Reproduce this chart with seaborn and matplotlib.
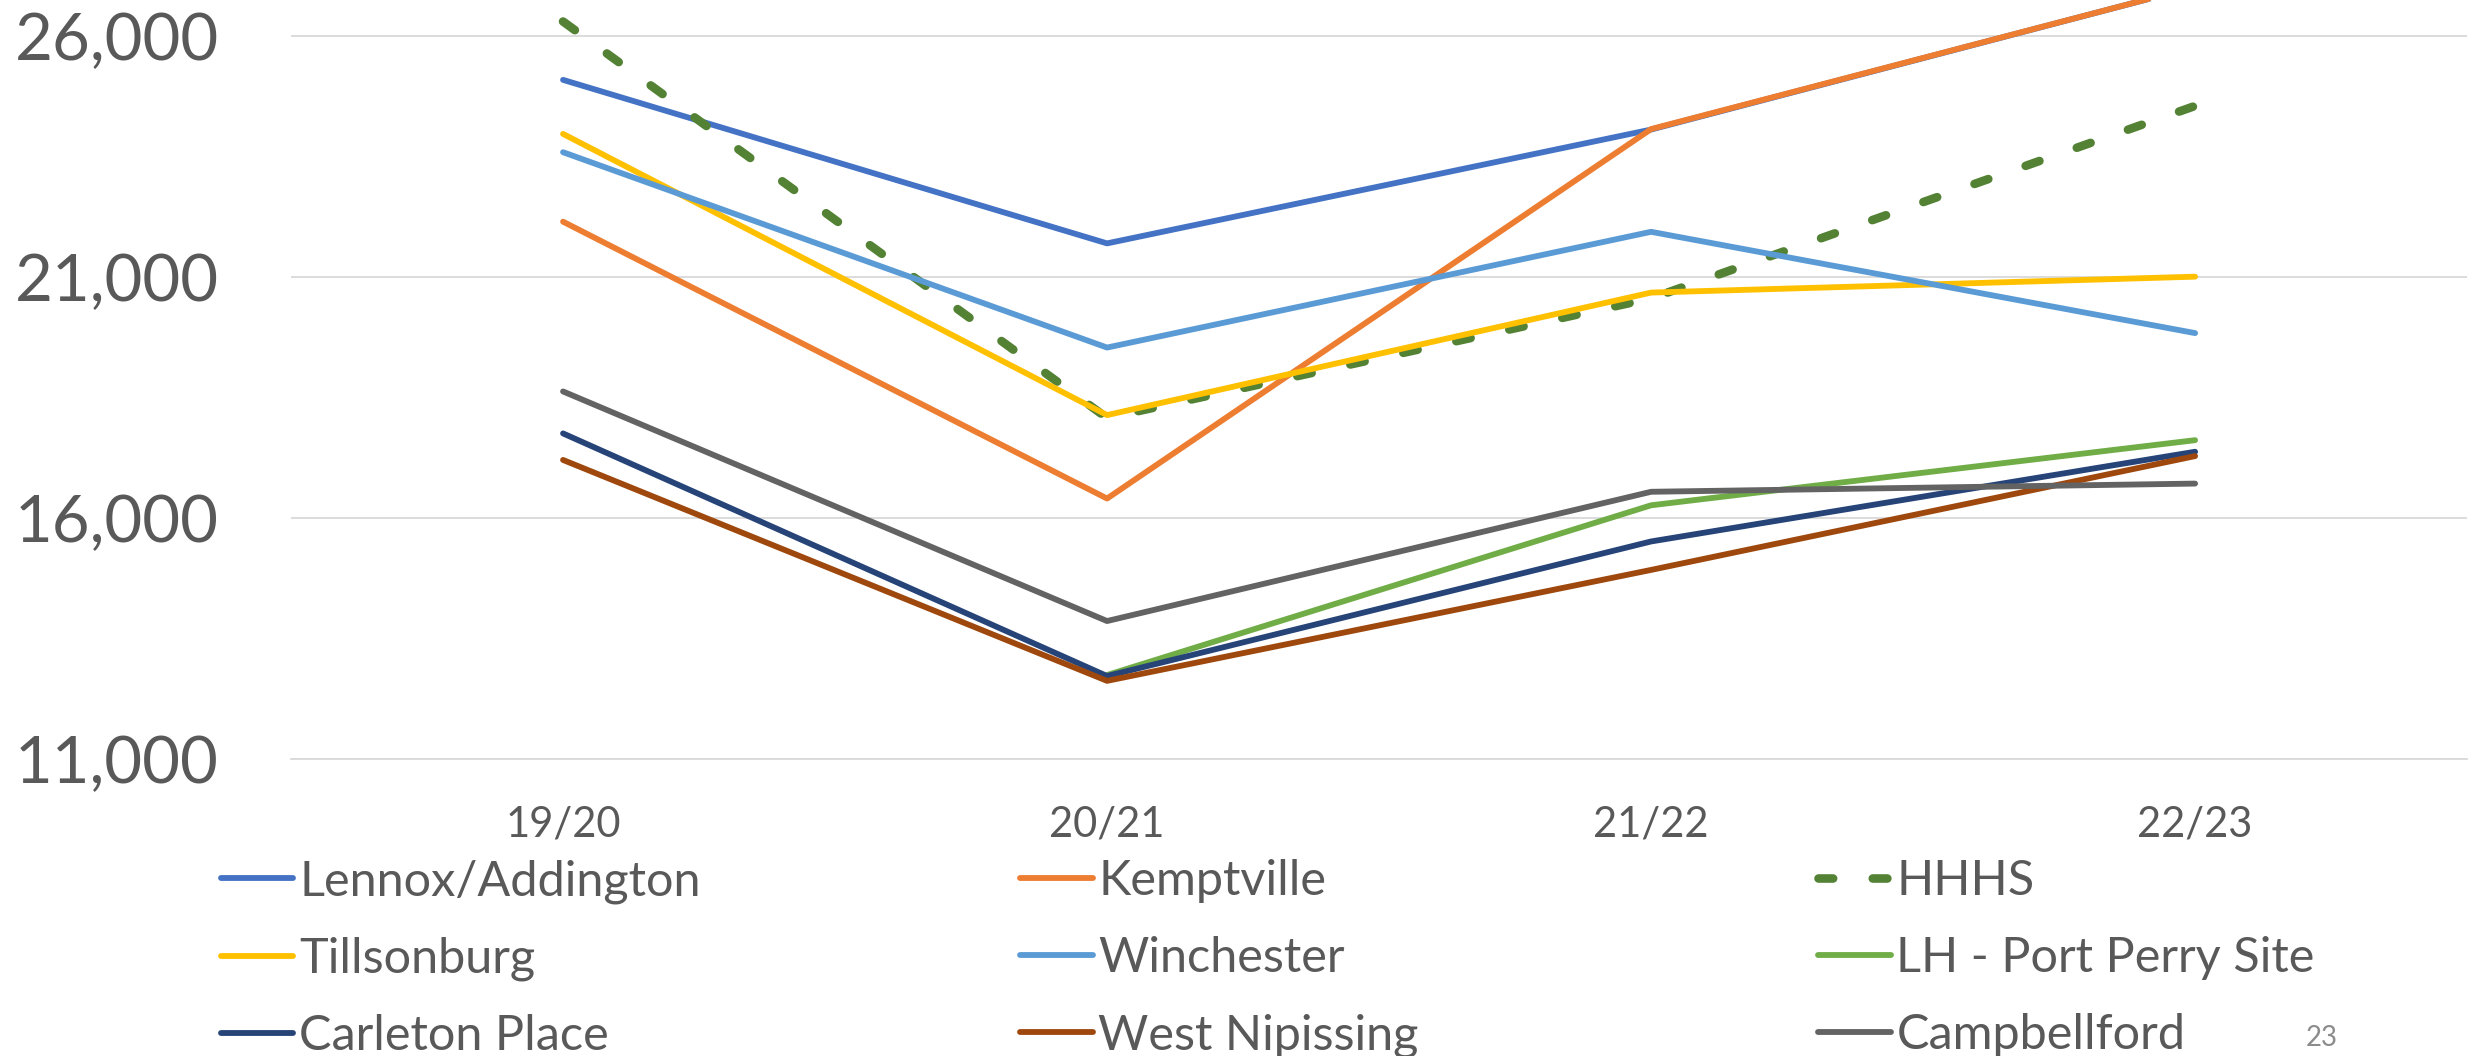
import numpy as np
import pandas as pd
import seaborn as sns
import matplotlib.pyplot as plt

years = ["19/20", "20/21", "21/22", "22/23"]

# Lennox 22/23 lies hidden under Kemptville in the picture
lennox = [25090, 21700, 24060, 27020]
kemptville = [22150, 16410, 24070, 27020]
hhhs = [26300, 18080, 20560, 24550]
tillsonburg = [23970, 18140, 20680, 21010]
winchester = [23590, 19540, 21940, 19840]
lh_port_perry = [np.nan, 12750, 16270, 17620]
carleton = [17760, 12730, 15520, 17380]
west_nipissing = [17210, 12630, 14930, 17290]
campbellford = [18630, 13870, 16550, 16720]

series = {
    "Lennox/Addington": lennox,
    "Kemptville": kemptville,
    "HHHS": hhhs,
    "Tillsonburg": tillsonburg,
    "Winchester": winchester,
    "LH - Port Perry Site": lh_port_perry,
    "Carleton Place": carleton,
    "West Nipissing": west_nipissing,
    "Campbellford": campbellford,
}
colors = {
    "Lennox/Addington": "#4472C4",
    "Kemptville": "#ED7D31",
    "HHHS": "#548235",
    "Tillsonburg": "#FFC000",
    "Winchester": "#5B9BD5",
    "LH - Port Perry Site": "#70AD47",
    "Carleton Place": "#264478",
    "West Nipissing": "#9E480E",
    "Campbellford": "#636363",
}

sns.set_style("white")
plt.rcParams['font.family'] = ['Lato', 'DejaVu Sans']
text_col = "#595959"

fig = plt.figure(figsize=(24.79, 10.56), dpi=100)
ax = fig.add_axes([0.1174, 0.2808, 0.8778, 0.7192])

handles = {}
for name, vals in series.items():
    df = pd.DataFrame({"year": years, "value": vals}).dropna()
    sns.lineplot(data=df, x="year", y="value", ax=ax, color=colors[name],
                 lw=4.2, sort=False, legend=False)
    line = ax.lines[-1]
    line.set_solid_capstyle("round")
    line.set_solid_joinstyle("round")
    if name == "HHHS":
        line.set_linewidth(6.2)
        line.set_dashes([1.7, 4.6])
        line.set_dash_capstyle("round")
    handles[name] = line

ax.set_xlim(-0.5, 3.5)
ax.set_ylim(11000, 26746)
ax.set_yticks([11000, 16000, 21000, 26000])
ax.set_yticklabels([f"{v:,}" for v in [11000, 16000, 21000, 26000]])
ax.set_xlabel("")
ax.set_ylabel("")
ax.grid(axis="y", color="#D9D9D9", lw=1.3)
ax.grid(axis="x", visible=False)
ax.set_axisbelow(True)
for s in ["top", "right", "left"]:
    ax.spines[s].set_visible(False)
ax.spines["bottom"].set_color("#D9D9D9")
ax.spines["bottom"].set_linewidth(1.3)
ax.tick_params(axis="y", length=0, pad=52, labelsize=47, labelcolor=text_col)
ax.tick_params(axis="x", length=0, pad=33, labelsize=30, labelcolor=text_col)

cols = [["Lennox/Addington", "Tillsonburg", "Carleton Place"],
        ["Kemptville", "Winchester", "West Nipissing"],
        ["HHHS", "LH - Port Perry Site", "Campbellford"]]
xs = [0.0891, 0.4115, 0.7334]
for names, x in zip(cols, xs):
    leg = fig.legend([handles[n] for n in names], names, loc="upper left",
                     bbox_to_anchor=(x, 0.1865), frameon=False, fontsize=35,
                     handlelength=1.49, handletextpad=0.12, labelspacing=0.68,
                     borderpad=0, borderaxespad=0, labelcolor=text_col)
    for h in leg.legend_handles:
        h.set_linewidth(4.2 if h.get_linestyle() == "-" else 6.2)

fig.text(0.930, 0.017, "23", fontsize=20, color="#8C8C8C", va="center")

fig.savefig("out.png", dpi=100)
